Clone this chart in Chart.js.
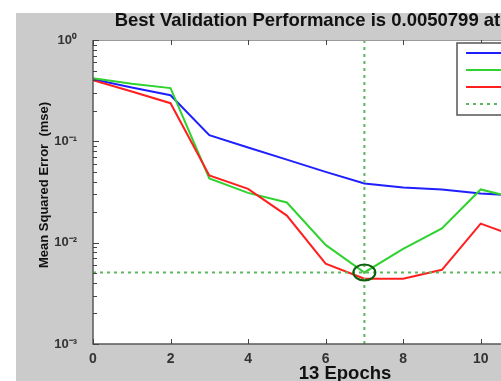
<!DOCTYPE html>
<html><head><meta charset="utf-8">
<style>
html,body{margin:0;padding:0;background:#fff;width:501px;height:381px;overflow:hidden;position:relative}
#bg{position:absolute;left:16px;top:13px;right:0;bottom:0;background:#cbcbcb}
#c{position:absolute;left:0;top:0}
</style>
<script src="https://cdn.jsdelivr.net/npm/chart.js@4.4.1/dist/chart.umd.min.js"></script>
</head><body><div id="bg"></div><canvas id="c" width="620" height="381"></canvas>
<script>
const epochs = [0,1,2,3,4,5,6,7,8,9,10,11,12,13];
const train = [0.41,0.34,0.285,0.115,0.087,0.066,0.050,0.0384,0.035,0.0335,0.0305,0.029,0.027,0.026];
const validation = [0.42,0.37,0.335,0.043,0.031,0.0249,0.0095,0.0050799,0.0087,0.0138,0.0335,0.027,0.025,0.024];
const test = [0.40,0.31,0.238,0.046,0.034,0.0185,0.0062,0.0044,0.0044,0.0054,0.0154,0.0112,0.010,0.0095];
const bestEpoch = 7;
const bestValue = 0.0050799;
const seriesNames = ['Train','Validation','Test','Best'];
const xTicks = [0,2,4,6,8,10,12];
const yTicks = [0.001,0.01,0.1,1];
const yTickLabels = ['10\u207B\u00B3','10\u207B\u00B2','10\u207B\u00B9','10\u2070'];
const titleText = 'Best Validation Performance is 0.0050799 at epoch 7';
const xTitle = '13 Epochs';
const yTitle = 'Mean Squared Error  (mse)';

const FONT = "'Liberation Sans', Arial, Helvetica, sans-serif";
const pts = arr => arr.map((v,i)=>({x:epochs[i], y:v}));
const C_BLUE='#1f1fff', C_GREEN='#2fd22f', C_RED='#ff1f1f', C_DOT='#5cb85c';

const deco = {
  id:'deco',
  beforeDatasetsDraw(chart){
    const {ctx, chartArea:a} = chart;
    ctx.save(); ctx.fillStyle='#fff'; ctx.fillRect(a.left,a.top,a.right-a.left,a.bottom-a.top); ctx.restore();
  },
  afterDraw(chart){
    const {ctx, chartArea:a, scales} = chart;
    const xs=scales.x, ys=scales.y;
    ctx.save();
    // ellipse at best
    const bx=xs.getPixelForValue(bestEpoch), by=ys.getPixelForValue(bestValue);
    ctx.strokeStyle='#0b5e0b'; ctx.lineWidth=2;
    ctx.beginPath(); ctx.ellipse(bx,by,11,8,0,0,Math.PI*2); ctx.stroke();
    // box
    ctx.strokeStyle='#5a5a5a'; ctx.lineWidth=1.5;
    ctx.beginPath();
    ctx.moveTo(a.left,a.top); ctx.lineTo(a.left,a.bottom); ctx.lineTo(a.right,a.bottom);
    ctx.stroke();
    ctx.strokeStyle='#9a9a9a'; ctx.lineWidth=1;
    ctx.beginPath(); ctx.moveTo(a.left,a.top+0.5); ctx.lineTo(a.right,a.top+0.5); ctx.lineTo(a.right,a.bottom); ctx.stroke();
    // ticks
    ctx.strokeStyle='#444'; ctx.lineWidth=1;
    ctx.beginPath();
    xTicks.forEach(t=>{const px=Math.round(xs.getPixelForValue(t))+0.5;
      ctx.moveTo(px,a.bottom); ctx.lineTo(px,a.bottom-5);
      ctx.moveTo(px,a.top); ctx.lineTo(px,a.top+5);});
    for(let e=-3;e<=0;e++){
      for(let m=1;m<=9;m++){
        const v=m*Math.pow(10,e); if(v>1.0001) break;
        const py=Math.round(ys.getPixelForValue(v))+0.5;
        const len = m===1?6:4;
        ctx.moveTo(a.left,py); ctx.lineTo(a.left+len,py);
        ctx.moveTo(a.right,py); ctx.lineTo(a.right-len,py);
        if(e===0) break;
      }
    }
    ctx.stroke();
    // titles
    ctx.fillStyle='#111';
    ctx.textAlign='center'; ctx.textBaseline='middle';
    ctx.font='bold 18.5px '+FONT;
    ctx.fillText(titleText,(a.left+a.right)/2,21);
    ctx.font='bold 18.5px '+FONT;
    ctx.fillText(xTitle,(a.left+a.right)/2,374);
    ctx.save();
    ctx.translate(44,185); ctx.rotate(-Math.PI/2);
    ctx.font='bold 13px '+FONT;
    ctx.fillText(yTitle,0,0);
    ctx.restore();
    // legend
    const lx=457, ly=43, lw=200, lh=72;
    ctx.fillStyle='#fff'; ctx.fillRect(lx,ly,lw,lh);
    ctx.strokeStyle='#555'; ctx.lineWidth=1.5; ctx.strokeRect(lx,ly,lw,lh);
    const rows=[53,70,87,104];
    const ds=chart.data.datasets;
    ctx.font='13px '+FONT; ctx.textAlign='left';
    for(let i=0;i<4;i++){
      ctx.strokeStyle=ds[i].borderColor; ctx.lineWidth=2;
      ctx.setLineDash(i===3?[3,4]:[]);
      ctx.beginPath(); ctx.moveTo(466,rows[i]); ctx.lineTo(506,rows[i]); ctx.stroke();
      ctx.setLineDash([]);
      ctx.fillStyle='#111'; ctx.fillText(seriesNames[i],512,rows[i]);
    }
    ctx.restore();
  }
};

new Chart(document.getElementById('c'),{
  type:'line',
  data:{datasets:[
    {label:seriesNames[0],data:pts(train),borderColor:C_BLUE,borderWidth:2,pointRadius:0,order:4},
    {label:seriesNames[1],data:pts(validation),borderColor:C_GREEN,borderWidth:2,pointRadius:0,order:3},
    {label:seriesNames[2],data:pts(test),borderColor:C_RED,borderWidth:2,pointRadius:0,order:2},
    {label:seriesNames[3],data:[{x:0,y:bestValue},{x:13,y:bestValue}],borderColor:C_DOT,borderWidth:2,borderDash:[3,4],pointRadius:0,order:1},
    {label:'bestV',data:[{x:bestEpoch,y:0.001},{x:bestEpoch,y:1}],borderColor:C_DOT,borderWidth:2,borderDash:[3,4],pointRadius:0,order:1}
  ]},
  options:{
    responsive:false, animation:false, devicePixelRatio:1,
    layout:{padding:{left:0,right:23,top:40,bottom:0}},
    plugins:{legend:{display:false},tooltip:{enabled:false}},
    scales:{
      x:{type:'linear',min:0,max:13,
        afterBuildTicks:s=>{s.ticks=xTicks.map(v=>({value:v}));},
        ticks:{font:{family:FONT,size:14,weight:'bold'},color:'#333',padding:-1,maxRotation:0},
        grid:{display:false},border:{display:false},
        afterFit:s=>{s.height=37;}},
      y:{type:'logarithmic',min:0.001,max:1,
        afterBuildTicks:s=>{s.ticks=yTicks.map(v=>({value:v}));},
        ticks:{font:{family:FONT,size:13,weight:'bold'},color:'#333',padding:8,
          callback:(v)=>{const i=yTicks.findIndex(t=>Math.abs(t-v)/t<1e-6);return i>=0?yTickLabels[i]:'';}},
        grid:{display:false},border:{display:false},
        afterFit:s=>{s.width=93;}}
    }
  },
  plugins:[deco]
});
</script></body></html>
